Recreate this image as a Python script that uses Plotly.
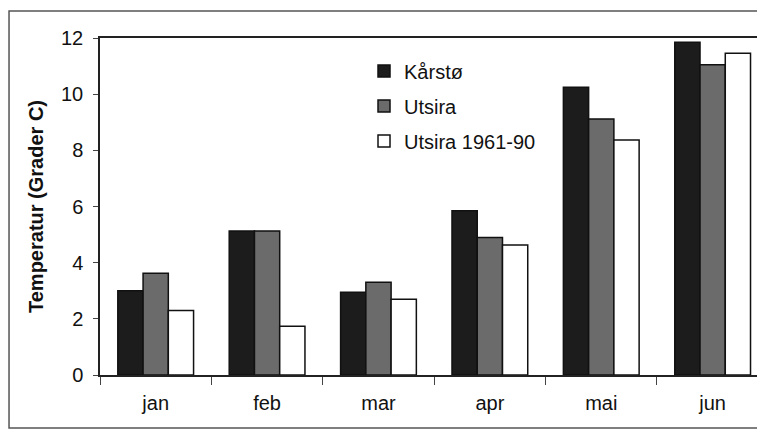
import plotly.graph_objects as go

months = ["jan", "feb", "mar", "apr", "mai", "jun"]
karsto = [3.0, 5.13, 2.95, 5.85, 10.25, 11.85]
utsira = [3.62, 5.13, 3.3, 4.9, 9.12, 11.05]
utsira_normal = [2.3, 1.74, 2.7, 4.63, 8.37, 11.46]

series_names = ["Kårstø", "Utsira", "Utsira 1961-90"]
series_colors = ["#1c1c1c", "#6b6b6b", "#ffffff"]
y_ticks = [0, 2, 4, 6, 8, 10, 12]

FONT = "Liberation Sans, Arial, sans-serif"

fig = go.Figure()
for name, vals, col in zip(series_names, [karsto, utsira, utsira_normal], series_colors):
    fig.add_trace(go.Bar(
        x=months, y=vals, name=name, legendgroup=name,
        marker=dict(color=col, line=dict(color="#111111", width=1.5)),
    ))

fig.update_layout(
    width=765, height=430,
    margin=dict(l=92, r=8, t=30, b=63, autoexpand=False),
    paper_bgcolor="white", plot_bgcolor="white",
    font=dict(family=FONT, size=20, color="#111111"),
    barmode="group", bargap=0.32, bargroupgap=0,
    showlegend=True,
    legend=dict(
        x=0.397, y=0.96, xanchor="left", yanchor="top",
        bgcolor="rgba(0,0,0,0)", font=dict(size=20, family=FONT),
        tracegroupgap=6, traceorder="grouped",
    ),
    xaxis=dict(
        type="category", categoryarray=months, range=[-0.5, 5.47],
        showline=True, linecolor="#222222", linewidth=1.5, mirror=True,
        ticks="outside", ticklen=8, tickwidth=1, tickcolor="#444444",
        tickson="boundaries", showgrid=False, zeroline=False,
        ticklabelstandoff=9, automargin=False,
        tickfont=dict(size=20, family=FONT),
    ),
    yaxis=dict(
        range=[0, 12], tickvals=y_ticks,
        showline=True, linecolor="#222222", linewidth=1.5,
        ticks="outside", ticklen=5, tickwidth=1, tickcolor="#444444",
        showgrid=False, zeroline=False, ticklabelstandoff=6, automargin=False,
        tickfont=dict(size=20, family=FONT),
        title=dict(text="<b>Temperatur (Grader C)</b>", font=dict(size=20, family=FONT), standoff=12),
    ),
    yaxis2=dict(
        range=[0, 12], tickvals=y_ticks, overlaying="y", anchor="x", side="left",
        ticks="inside", ticklen=8, tickwidth=1, tickcolor="#444444",
        showticklabels=False, showline=False, showgrid=False, zeroline=False,
    ),
    xaxis2=dict(
        range=[-0.5, 5.47], tickvals=[0.5, 1.5, 2.5, 3.5, 4.5], overlaying="x", anchor="y",
        ticks="inside", ticklen=7, tickwidth=1, tickcolor="#444444",
        showticklabels=False, showline=False, showgrid=False, zeroline=False,
    ),
    shapes=[dict(
        type="rect", xref="paper", yref="paper",
        x0=-0.1368, x1=1.03, y0=-0.157, y1=1.08,
        line=dict(color="#555555", width=1.5), fillcolor="rgba(0,0,0,0)", layer="below",
    )],
)

fig.write_html("out.html")
